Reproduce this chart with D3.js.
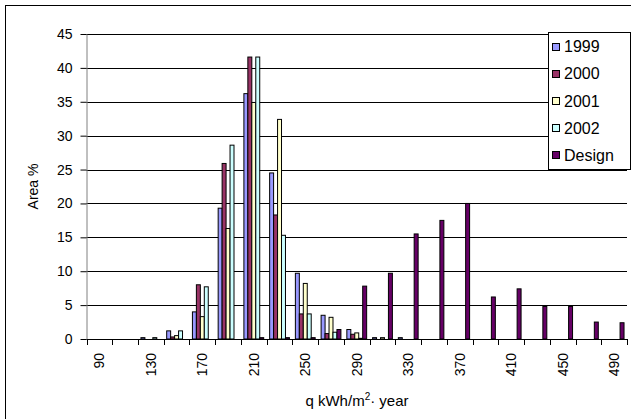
<!DOCTYPE html>
<html>
<head>
<meta charset="utf-8">
<script src="https://cdn.jsdelivr.net/npm/d3@7"></script>
<style>
  html, body { margin: 0; padding: 0; background: #fff; }
  svg { display: block; font-family: "Liberation Sans", Arial, sans-serif; }
</style>
</head>
<body>
<svg id="chart" width="631" height="419"></svg>
<script>
// Specific heat demand classes (kWh/m²·year)
const categories = [90, 110, 130, 150, 170, 190, 210, 230, 250, 270, 290,
                    310, 330, 350, 370, 390, 410, 430, 450, 470, 490];
const tickLabels = [90, 130, 170, 210, 250, 290, 330, 370, 410, 450, 490];
const seriesNames = ["1999", "2000", "2001", "2002", "Design"];

// Share of floor area (%) in each class
const values1999   = [0, 0, 0.2, 1.2, 4.0, 19.3, 36.2, 24.5, 9.7, 3.5, 1.4, 0.2, 0.2, 0, 0, 0, 0, 0, 0, 0, 0];
const values2000   = [0, 0, 0, 0.3, 8.0, 25.9, 41.6, 18.3, 3.7, 0.8, 0.7, 0, 0, 0, 0, 0, 0, 0, 0, 0, 0];
const values2001   = [0, 0, 0, 0.5, 3.3, 16.3, 34.9, 32.4, 8.2, 3.2, 0.9, 0.2, 0, 0, 0, 0, 0, 0, 0, 0, 0];
const values2002   = [0, 0, 0.2, 1.2, 7.7, 28.6, 41.6, 15.3, 3.7, 1.0, 0.1, 0, 0, 0, 0, 0, 0, 0, 0, 0, 0];
const valuesDesign = [0, 0, 0, 0, 0, 0, 0.2, 0.2, 0.2, 1.4, 7.8, 9.7, 15.5, 17.5, 20.0, 6.2, 7.4, 4.8, 4.8, 2.5, 2.4];
const yTicks = [0, 5, 10, 15, 20, 25, 30, 35, 40, 45];

const colors = ["#9999FF", "#993366", "#FFFFCC", "#CCFFFF", "#660066"];
const seriesValues = [values1999, values2000, values2001, values2002, valuesDesign];

const FONT = 14;
const svg = d3.select("#chart");

// outer chart frame
svg.append("rect")
  .attr("x", 5.5).attr("y", 5.5)
  .attr("width", 640).attr("height", 430)
  .attr("fill", "#fff").attr("stroke", "#000").attr("stroke-width", 1);

const plot = { left: 86.5, right: 627, top: 34, bottom: 339 };

const x = d3.scaleBand().domain(categories).range([plot.left, plot.right]).padding(0);
const xs = d3.scaleBand().domain(seriesNames).range([0, x.bandwidth()])
  .paddingInner(0).paddingOuter(0.75);
const y = d3.scaleLinear().domain([0, 45]).range([plot.bottom, plot.top]);

// horizontal gridlines
svg.append("g").selectAll("line")
  .data(yTicks.filter(d => d > 0))
  .join("line")
  .attr("x1", plot.left).attr("x2", plot.right)
  .attr("y1", d => Math.round(y(d)) + 0.5).attr("y2", d => Math.round(y(d)) + 0.5)
  .attr("stroke", "#000").attr("stroke-width", 1);

// bars
const rows = [];
seriesNames.forEach((s, si) => {
  categories.forEach((c, ci) => {
    const v = seriesValues[si][ci];
    if (v > 0) rows.push({ s, si, c, v });
  });
});
svg.append("g").selectAll("rect")
  .data(rows)
  .join("rect")
  .attr("x", d => x(d.c) + xs(d.s))
  .attr("width", xs.bandwidth())
  .attr("y", d => y(d.v))
  .attr("height", d => y(0) - y(d.v))
  .attr("fill", d => colors[d.si])
  .attr("stroke", "#000").attr("stroke-width", 1);

// y axis
const yAxis = svg.append("g")
  .attr("transform", `translate(${plot.left},0)`)
  .call(d3.axisLeft(y).tickValues(yTicks).tickSize(6).tickSizeOuter(0).tickPadding(8));
yAxis.select(".domain").attr("stroke", "#808080");
yAxis.selectAll(".tick line").attr("stroke", "#000");
yAxis.selectAll("text").attr("font-size", FONT).attr("fill", "#000")
  .attr("font-family", "Liberation Sans, Arial, sans-serif");

// x axis: ticks on category boundaries, labels on every other category
const xAxisG = svg.append("g").attr("transform", `translate(0,${plot.bottom})`);
xAxisG.append("line")
  .attr("x1", plot.left).attr("x2", plot.right)
  .attr("y1", 0.5).attr("y2", 0.5)
  .attr("stroke", "#000");
const bounds = categories.map(c => x(c)).concat([plot.right]);
xAxisG.selectAll("line.tk")
  .data(bounds)
  .join("line").attr("class", "tk")
  .attr("x1", d => Math.round(d) + 0.5).attr("x2", d => Math.round(d) + 0.5)
  .attr("y1", 0).attr("y2", 6)
  .attr("stroke", "#000");
xAxisG.selectAll("text")
  .data(tickLabels)
  .join("text")
  .attr("transform", d => `translate(${x(d) + x.bandwidth() / 2},14) rotate(-90)`)
  .attr("text-anchor", "end")
  .attr("dy", "0.35em")
  .attr("font-size", FONT)
  .text(d => d);

// axis titles
svg.append("text")
  .attr("transform", `translate(38,${(plot.top + plot.bottom) / 2}) rotate(-90)`)
  .attr("text-anchor", "middle")
  .attr("font-size", FONT)
  .text("Area %");

const xt = svg.append("text")
  .attr("x", 357).attr("y", 406)
  .attr("text-anchor", "middle")
  .attr("font-size", 15);
xt.append("tspan").text("q kWh/m");
xt.append("tspan").attr("font-size", 10).attr("dy", -6).text("2");
xt.append("tspan").attr("dy", 6).text("\u00B7 year");

// legend
const lg = svg.append("g");
lg.append("rect")
  .attr("x", 548.5).attr("y", 32.5).attr("width", 82).attr("height", 137)
  .attr("fill", "#fff").attr("stroke", "#000");
seriesNames.forEach((s, i) => {
  const cy = 46.5 + i * 27.2;
  lg.append("rect")
    .attr("x", 552.5).attr("y", Math.round(cy - 4) + 0.5)
    .attr("width", 7).attr("height", 7)
    .attr("fill", colors[i]).attr("stroke", "#000");
  lg.append("text")
    .attr("x", 564).attr("y", cy).attr("dy", "0.35em")
    .attr("font-size", 16)
    .text(s);
});
</script>
</body>
</html>
